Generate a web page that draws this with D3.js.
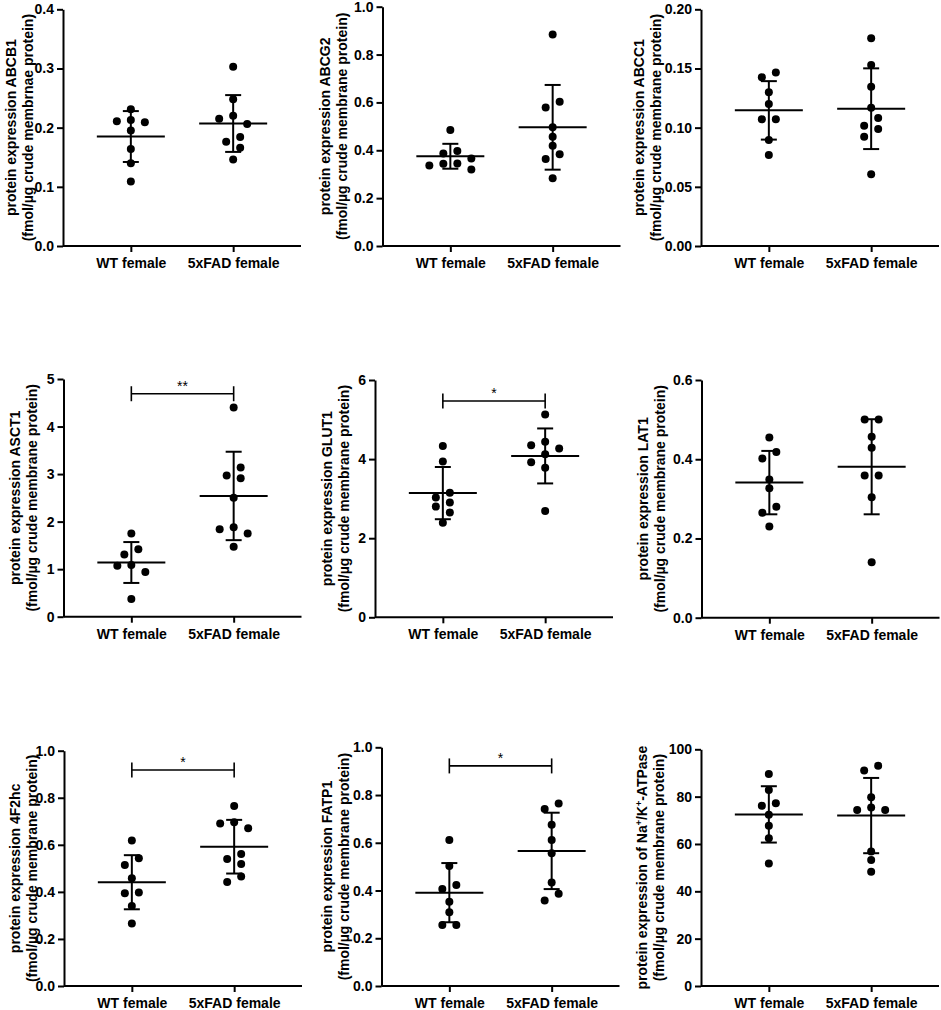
<!DOCTYPE html>
<html><head><meta charset="utf-8">
<script src="https://cdn.jsdelivr.net/npm/d3@7"></script>
<style>
body{margin:0;background:#fff;}
svg text{font-family:"Liberation Sans",Arial,Helvetica,sans-serif;fill:#000;}
</style></head><body>
<svg id="chart" width="941" height="1010"></svg>
<script>
// ---------------- DATA ----------------
const categories = ["WT female", "5xFAD female"];
const proteins = ["ABCB1","ABCG2","ABCC1","ASCT1","GLUT1","LAT1","4F2hc","FATP1","Na/K-ATPase"];
const titleLine1 = [
  "protein expression ABCB1","protein expression ABCG2","protein expression ABCC1",
  "protein expression ASCT1","protein expression GLUT1","protein expression LAT1",
  "protein expression 4F2hc","protein expression FATP1","protein expression of Na+/K+-ATPase"];
const titleLine2 = [
  "(fmol/µg crude membrnae protein)","(fmol/µg crude membrane protein)","(fmol/µg crude membrane protein)",
  "(fmol/µg crude membrane protein)","(fmol/µg crude membrane protein)","(fmol/µg crude membrane protein)",
  "(fmol/µg crude membrane protein)","(fmol/µg crude membrane protein)","(fmol/µg crude membrane protein)"];

const wtValues = [
  [0.231,0.213,0.211,0.209,0.195,0.164,0.140,0.109],
  [0.485,0.397,0.387,0.366,0.345,0.344,0.336,0.320],
  [0.1465,0.1425,0.130,0.120,0.107,0.107,0.0896,0.0769],
  [1.75,1.42,1.31,1.09,1.07,0.94,0.37],
  [4.33,3.94,3.15,3.03,2.90,2.80,2.65,2.39],
  [0.455,0.418,0.402,0.349,0.327,0.280,0.265,0.230],
  [0.618,0.543,0.514,0.458,0.397,0.394,0.340,0.266],
  [0.612,0.503,0.423,0.406,0.353,0.309,0.256,0.256],
  [89.6,82.8,77.2,76.1,72.3,67.7,62.4,51.8]];
const fadValues = [
  [0.303,0.248,0.220,0.215,0.206,0.184,0.176,0.166,0.146],
  [0.884,0.603,0.579,0.496,0.457,0.419,0.383,0.364,0.283],
  [0.1755,0.153,0.1346,0.1169,0.1082,0.1017,0.0989,0.0924,0.0606],
  [4.40,3.14,2.97,2.91,2.50,1.88,1.84,1.75,1.47],
  [5.13,4.44,4.35,4.27,4.12,3.92,3.78,2.69],
  [0.500,0.500,0.457,0.429,0.359,0.359,0.304,0.140],
  [0.765,0.696,0.691,0.670,0.561,0.540,0.518,0.465,0.442],
  [0.765,0.742,0.676,0.612,0.556,0.434,0.386,0.358],
  [93.1,91.0,79.7,75.4,74.4,74.4,56.8,53.2,48.3]];

const wtMean  = [0.185,0.375,0.1146,1.14,3.14,0.341,0.441,0.391,72.5];
const wtSD    = [0.043,0.052,0.0247,0.43,0.66,0.080,0.115,0.124,11.9];
const fadMean = [0.207,0.496,0.116,2.54,4.08,0.381,0.592,0.566,72.0];
const fadSD   = [0.048,0.177,0.0341,0.93,0.695,0.120,0.114,0.160,15.9];

const yMax = [0.4,1,0.2,5,6,0.6,1,1,100];
const yTicks = [
  [0,0.1,0.2,0.3,0.4],[0,0.2,0.4,0.6,0.8,1.0],[0,0.05,0.10,0.15,0.20],
  [0,1,2,3,4,5],[0,2,4,6],[0,0.2,0.4,0.6],
  [0,0.2,0.4,0.6,0.8,1.0],[0,0.2,0.4,0.6,0.8,1.0],[0,20,40,60,80,100]];
const yFormat = [".1f",".1f",".2f","d","d",".1f",".1f",".1f","d"];
const sigLabel = ["","","","**","*","","*","*",""];
const sigLevel = [null,null,null,4.69,5.47,null,0.918,0.922,null];

// ---------------- LAYOUT ----------------
const layout = [
  {ax:63,    top:9.3,   bottom:246,   t2:29},
  {ax:382.5, top:6.7,   bottom:246,   t2:343.3},
  {ax:701,   top:9.3,   bottom:246,   t2:657.3},
  {ax:63.5,  top:379,   bottom:616.7, t2:33.3},
  {ax:375,   top:380,   bottom:617.3, t2:345},
  {ax:701.5, top:380,   bottom:617.7, t2:661.7},
  {ax:64,    top:750.7, bottom:986,   t2:33.3},
  {ax:381.5, top:747.3, bottom:986,   t2:345.7},
  {ax:701,   top:749.3, bottom:986,   t2:660.7}];
const axisLen = 238, fontSize = 14, dotR = 4, colStep = 14, overlapT = 8.5;

const svg = d3.select("#chart");

function swarm(values, y) {
  const pts = values.map(v => ({v, py: y(v)})).sort((a,b) => a.py - b.py);
  const clusters = []; let cur = [];
  pts.forEach((p,i) => {
    if (i > 0 && p.py - pts[i-1].py >= overlapT) { clusters.push(cur); cur = []; }
    cur.push(p);
  });
  clusters.push(cur);
  const order = [0,-1,1,-2,2,-3,3,-4,4];
  clusters.forEach(c => {
    const placed = [];
    c.forEach(p => {
      for (const col of order) {
        if (!placed.some(q => q.col === col && Math.abs(q.py - p.py) < overlapT)) { p.col = col; break; }
      }
      placed.push(p);
    });
    const mid = (d3.min(c, d => d.col) + d3.max(c, d => d.col)) / 2;
    c.forEach(p => p.dx = (p.col - mid) * colStep);
  });
  return pts;
}

layout.forEach((L, i) => {
  const g = svg.append("g");
  const y = d3.scaleLinear().domain([0, yMax[i]]).range([L.bottom, L.top]);
  const x = d3.scalePoint().domain(categories).range([L.ax, L.ax + axisLen]).padding(0.663);

  // y axis
  const ya = g.append("g").attr("transform", `translate(${L.ax},0)`)
    .call(d3.axisLeft(y).tickValues(yTicks[i]).tickFormat(d3.format(yFormat[i])).tickSize(6).tickSizeOuter(0).tickPadding(3));
  // x axis
  const xa = g.append("g").attr("transform", `translate(0,${L.bottom})`)
    .call(d3.axisBottom(x).tickSize(6).tickSizeOuter(0).tickPadding(6));
  xa.select(".domain").attr("d", `M${L.ax},0H${L.ax + axisLen}`);
  [ya, xa].forEach(a => {
    a.selectAll("path,line").attr("stroke", "#000").attr("stroke-width", 2);
    a.selectAll("text").attr("font-size", fontSize).attr("font-weight", "bold").attr("fill", "#000")
      .attr("font-family", '"Liberation Sans",Arial,sans-serif');
  });

  // y title
  const cy = (L.top + L.bottom) / 2;
  const t2 = g.append("text").attr("transform", `translate(${L.t2 + 3.6},${cy}) rotate(-90)`)
    .attr("text-anchor", "middle").attr("font-size", fontSize).attr("font-weight", "bold")
    .text(titleLine2[i]);
  const t1 = g.append("text").attr("transform", `translate(${L.t2 - 17 + 3.6},${cy}) rotate(-90)`)
    .attr("text-anchor", "middle").attr("font-size", fontSize).attr("font-weight", "bold");
  const parts = titleLine1[i].split(/(\+)/);
  parts.forEach(p => {
    if (p === "+") t1.append("tspan").attr("baseline-shift", "super").attr("font-size", 9).text("+");
    else t1.append("tspan").text(p);
  });

  // dots + mean/SD
  const groups = [
    {cat: categories[0], vals: wtValues[i], m: wtMean[i], sd: wtSD[i]},
    {cat: categories[1], vals: fadValues[i], m: fadMean[i], sd: fadSD[i]}];
  groups.forEach(gr => {
    const cx = x(gr.cat);
    const pts = swarm(gr.vals, y);
    g.selectAll(null).data(pts).enter().append("circle")
      .attr("cx", d => cx + d.dx).attr("cy", d => d.py).attr("r", dotR).attr("fill", "#000");
    const s = {stroke: "#000", "stroke-width": 2};
    const line = (x1, y1, x2, y2) => g.append("line").attr("x1", x1).attr("y1", y1).attr("x2", x2).attr("y2", y2)
      .attr("stroke", "#000").attr("stroke-width", 2);
    line(cx - 34, y(gr.m), cx + 34, y(gr.m));
    line(cx, y(gr.m + gr.sd), cx, y(gr.m - gr.sd));
    line(cx - 8, y(gr.m + gr.sd), cx + 8, y(gr.m + gr.sd));
    line(cx - 8, y(gr.m - gr.sd), cx + 8, y(gr.m - gr.sd));
  });

  // significance bracket
  if (sigLevel[i] !== null) {
    const by = y(sigLevel[i]);
    const x1 = x(categories[0]), x2 = x(categories[1]);
    const bl = (a, b, c, d) => g.append("line").attr("x1", a).attr("y1", b).attr("x2", c).attr("y2", d)
      .attr("stroke", "#000").attr("stroke-width", 1.6);
    bl(x1, by, x2, by);
    bl(x1, by - 7.5, x1, by + 7.5);
    bl(x2, by - 7.5, x2, by + 7.5);
    g.append("text").attr("x", (x1 + x2) / 2).attr("y", by - 3).attr("text-anchor", "middle")
      .attr("font-size", 14).attr("fill", "#222").text(sigLabel[i]);
  }
});
</script>
</body></html>
